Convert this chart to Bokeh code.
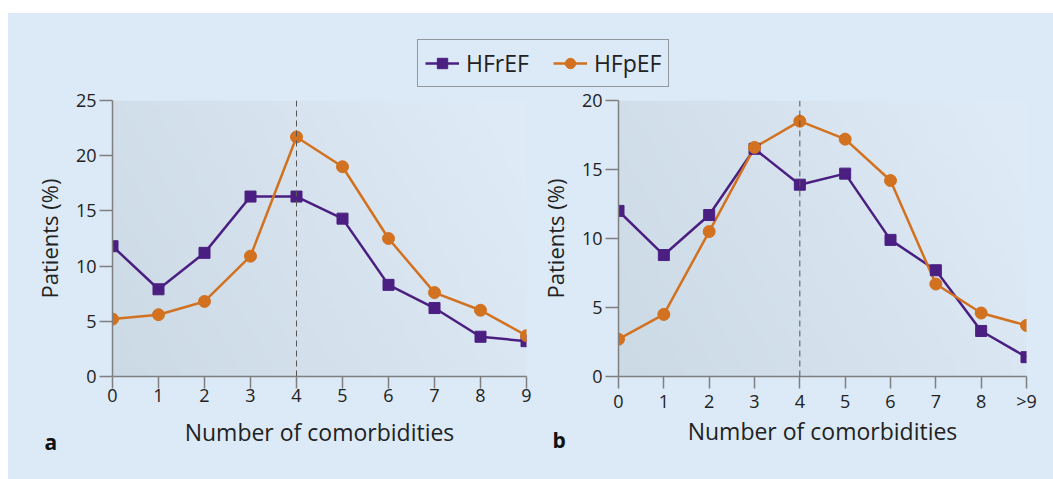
import numpy as np
from bokeh.plotting import figure
from bokeh.layouts import column, row
from bokeh.models import (Span, Title, Legend, LegendItem, Range1d, FixedTicker,
                          Spacer, ColumnDataSource)
from bokeh.embed import file_html
from bokeh.resources import INLINE

# ---------------- data ----------------
comorbidities = [0, 1, 2, 3, 4, 5, 6, 7, 8, 9]
labels_a = ["0", "1", "2", "3", "4", "5", "6", "7", "8", "9"]
labels_b = ["0", "1", "2", "3", "4", "5", "6", "7", "8", ">9"]
hfref_a = [11.8, 7.9, 11.2, 16.3, 16.3, 14.3, 8.3, 6.2, 3.6, 3.2]
hfpef_a = [5.2, 5.6, 6.8, 10.9, 21.7, 19.0, 12.5, 7.6, 6.0, 3.7]
hfref_b = [12.0, 8.8, 11.7, 16.5, 13.9, 14.7, 9.9, 7.7, 3.3, 1.4]
hfpef_b = [2.7, 4.5, 10.5, 16.6, 18.5, 17.2, 14.2, 6.7, 4.6, 3.7]
yticks_a = [0, 5, 10, 15, 20, 25]
yticks_b = [0, 5, 10, 15, 20]
series_names = ["HFrEF", "HFpEF"]

PURPLE = "#4b1f82"
ORANGE = "#d2711f"
BG = "#dceaf7"
FONT = "Open Sans"
TEXT = "#222222"
AXIS = "#7f7f7f"


def gradient():
    nx, ny = 80, 40
    dark = np.array([204, 218, 229], dtype=float)
    light = np.array([222, 234, 245], dtype=float)
    xs = np.linspace(0, 1, nx)[None, :]
    ys = np.linspace(0, 1, ny)[:, None]
    t = np.clip(0.8 * xs + 0.3 * ys, 0, 1)
    img = np.empty((ny, nx), dtype=np.uint32)
    view = img.view(dtype=np.uint8).reshape((ny, nx, 4))
    for k in range(3):
        view[:, :, k] = (dark[k] + (light[k] - dark[k]) * t).astype(np.uint8)
    view[:, :, 3] = 255
    return img


def make_panel(hfref, hfpef, ymax, yticks, xlabels, letter, width,
               left, right, letter_offset, xlabel_standoff, letter_standoff):
    p = figure(width=width, height=391, output_backend="svg",
               toolbar_location=None,
               x_range=Range1d(0, 9), y_range=Range1d(0, ymax),
               min_border_left=left, min_border_right=right,
               min_border_top=12, min_border_bottom=103)
    p.background_fill_color = BG
    p.border_fill_color = BG
    p.outline_line_color = None
    p.grid.visible = False

    p.image_rgba(image=[gradient()], x=0, y=0, dw=9, dh=ymax, level="image")

    p.add_layout(Span(location=4, dimension="height", line_color="#555555",
                      line_width=1, line_dash="6 4"))

    src = ColumnDataSource(dict(x=comorbidities, r=hfref, p=hfpef))
    p.line("x", "r", source=src, line_color=PURPLE, line_width=2.5)
    p.line("x", "p", source=src, line_color=ORANGE, line_width=2.5)
    p.scatter("x", "r", source=src, marker="square", size=11,
              fill_color=PURPLE, line_color=PURPLE)
    p.scatter("x", "p", source=src, marker="circle", size=12,
              fill_color=ORANGE, line_color=ORANGE)

    for ax in (p.xaxis[0], p.yaxis[0]):
        ax.axis_line_color = AXIS
        ax.axis_line_width = 1.5
        ax.major_tick_line_color = AXIS
        ax.major_tick_line_width = 1.5
        ax.major_tick_in = 0
        ax.minor_tick_line_color = None
        ax.major_label_text_font = FONT
        ax.major_label_text_font_size = "18px"
        ax.major_label_text_color = TEXT
        ax.axis_label_text_font = FONT
        ax.axis_label_text_font_style = "normal"
        ax.axis_label_text_color = TEXT

    p.xaxis.ticker = FixedTicker(ticks=comorbidities)
    p.xaxis.major_label_overrides = {i: lab for i, lab in zip(comorbidities, xlabels)}
    p.xaxis.axis_label = "Number of comorbidities"
    p.xaxis.axis_label_text_font_size = "23px"
    p.xaxis.major_tick_out = 12
    p.xaxis.major_label_standoff = 0
    p.xaxis.axis_label_standoff = xlabel_standoff

    p.yaxis.ticker = FixedTicker(ticks=yticks)
    p.yaxis.axis_label = "Patients (%)"
    p.yaxis.axis_label_text_font_size = "22px"
    p.yaxis.major_tick_out = 13
    p.yaxis.major_label_standoff = 3
    p.yaxis.axis_label_standoff = 9

    p.add_layout(Title(text=letter, align="left", offset=letter_offset,
                       standoff=letter_standoff, vertical_align="top",
                       text_font=FONT, text_font_size="21px",
                       text_font_style="bold", text_color="#111111"), "below")
    return p


p1 = make_panel(hfref_a, hfpef_a, 25, yticks_a, labels_a, "a",
                528, 104, 10, -68, 11, -46)
p2 = make_panel(hfref_b, hfpef_b, 20, yticks_b, labels_b, "b",
                517, 76, 27, -66, -1, -48)

# legend strip
top = figure(width=1045, height=75, output_backend="svg", toolbar_location=None,
             x_range=Range1d(0, 1), y_range=Range1d(100, 101),
             x_axis_type=None, y_axis_type=None,
             min_border=0)
top.background_fill_color = BG
top.border_fill_color = BG
top.outline_line_color = None
top.grid.visible = False
lsrc = ColumnDataSource(dict(x=comorbidities, r=hfref_a, p=hfpef_a))
lr1 = top.line("x", "r", source=lsrc, line_color=PURPLE, line_width=2.5)
sr1 = top.scatter("x", "r", source=lsrc, marker="square", size=11,
                  fill_color=PURPLE, line_color=PURPLE)
lr2 = top.line("x", "p", source=lsrc, line_color=ORANGE, line_width=2.5)
sr2 = top.scatter("x", "p", source=lsrc, marker="circle", size=12,
                  fill_color=ORANGE, line_color=ORANGE)
legend = Legend(items=[LegendItem(label=series_names[0], renderers=[lr1, sr1]),
                       LegendItem(label=series_names[1], renderers=[lr2, sr2])],
                orientation="horizontal", location=(409, 1),
                label_text_font=FONT, label_text_font_size="23px",
                label_text_color=TEXT,
                glyph_width=34, glyph_height=26, label_standoff=7,
                spacing=24, padding=7, margin=0,
                border_line_color="#444444", border_line_width=1,
                background_fill_color=BG, background_fill_alpha=1)
top.add_layout(legend, "center")

body = column(top, row(p1, p2, styles={"background-color": BG}),
              styles={"background-color": BG})
page = row(Spacer(width=8, height=479),
           column(Spacer(width=1045, height=13), body))

open("out.html", "w").write(file_html(page, INLINE))
